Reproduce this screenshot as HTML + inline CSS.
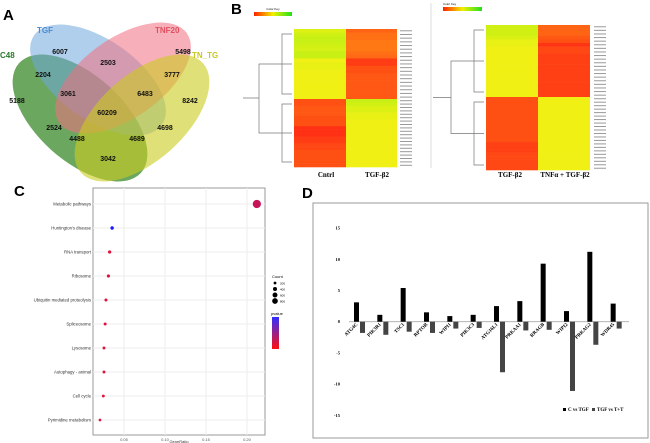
<!DOCTYPE html>
<html><head><meta charset="utf-8"><style>
body{margin:0;background:#fff;width:650px;height:443px;overflow:hidden;font-family:"Liberation Sans",sans-serif}
svg{display:block}
</style></head><body>
<svg id="fig" width="650" height="443" xmlns="http://www.w3.org/2000/svg">
<!-- Panel labels -->
<text x="3" y="20" font-size="15" font-weight="bold">A</text>
<text x="231" y="14" font-size="15" font-weight="bold">B</text>
<text x="14" y="196" font-size="15" font-weight="bold">C</text>
<text x="302" y="198" font-size="15" font-weight="bold">D</text>

<!-- Panel A Venn -->
<g>
<ellipse cx="80" cy="118" rx="82" ry="43" transform="rotate(42 80 118)" fill="#3a8a2a" fill-opacity="0.75"/>
<ellipse cx="98" cy="80" rx="78" ry="40" transform="rotate(35 98 80)" fill="#6fa8dc" fill-opacity="0.55"/>
<ellipse cx="123" cy="78" rx="78" ry="40" transform="rotate(-35 123 78)" fill="#f07080" fill-opacity="0.55"/>
<ellipse cx="142" cy="118" rx="82" ry="43" transform="rotate(-42 142 118)" fill="#cccc20" fill-opacity="0.6"/>
<g font-size="8" font-weight="bold" fill="#4a8ad0"><text x="37" y="33">TGF</text></g>
<text x="155" y="33" font-size="8" font-weight="bold" fill="#e05060">TNF20</text>
<text x="0" y="58" font-size="8" font-weight="bold" fill="#2a7a2a">C48</text>
<text x="192" y="58" font-size="8" font-weight="bold" fill="#c8c820">TN_TG</text>
<g font-size="7" font-weight="bold" fill="#111" text-anchor="middle">
<text x="60" y="54">6007</text><text x="183" y="54">5498</text><text x="108" y="65">2503</text>
<text x="43" y="77">2204</text><text x="172" y="77">3777</text><text x="68" y="96">3061</text>
<text x="145" y="96">6483</text><text x="17" y="103">5188</text><text x="190" y="103">8242</text>
<text x="107" y="115">60209</text><text x="54" y="130">2524</text><text x="165" y="130">4698</text>
<text x="77" y="141">4488</text><text x="137" y="141">4689</text><text x="108" y="161">3042</text>
</g>
</g>

<!-- Panel B -->
<defs><linearGradient id="cb" x1="0" x2="1"><stop offset="0" stop-color="#ff2000"/><stop offset="0.5" stop-color="#f0f000"/><stop offset="1" stop-color="#20e020"/></linearGradient></defs>
<g id="heatB">
<line x1="431" y1="3" x2="431" y2="168" stroke="#ddd"/>
<text x="273" y="10" font-size="3" text-anchor="middle">Color Key</text>
<rect x="254" y="12" width="38" height="4" fill="url(#cb)"/>
<text x="443" y="5" font-size="3">Color Key</text>
<rect x="443" y="7" width="39" height="4" fill="url(#cb)"/>
<text x="326" y="177" font-size="7" font-weight="bold" font-family="Liberation Serif" text-anchor="middle">Cntrl</text>
<text x="377" y="177" font-size="7" font-weight="bold" font-family="Liberation Serif" text-anchor="middle">TGF-β2</text>
<text x="510" y="177" font-size="7" font-weight="bold" font-family="Liberation Serif" text-anchor="middle">TGF-β2</text>
<text x="565" y="177" font-size="7" font-weight="bold" font-family="Liberation Serif" text-anchor="middle">TNFα + TGF-β2</text>
</g>

<!-- Panel C -->
<g id="dotC">
<rect x="93" y="188" width="172" height="247" fill="#fff" stroke="#999"/>
<text x="179" y="443" font-size="4" text-anchor="middle" fill="#333">GeneRatio</text>
<text x="272" y="278" font-size="4">Count</text>
<text x="271" y="315" font-size="4">pvalue</text>
<defs><linearGradient id="pv" x1="0" y1="0" x2="0" y2="1"><stop offset="0" stop-color="#3030ff"/><stop offset="1" stop-color="#ff1010"/></linearGradient></defs>
<rect x="272" y="317" width="7" height="32" fill="url(#pv)"/>
</g>

<!-- Panel D -->
<g id="barD">
<rect x="313" y="203" width="335" height="235" fill="#fff" stroke="#999"/>
<g font-size="5" font-family="Liberation Serif" font-weight="bold">
<rect x="563" y="408" width="3" height="3" fill="#000"/><text x="568" y="411">C vs TGF</text>
<rect x="592" y="408" width="3" height="3" fill="#444"/><text x="597" y="411">TGF vs T+T</text>
</g>
</g>
</svg>
<script>
// ---- Panel B heatmap data ----
const leftTop=[0.55,0.58,0.6,0.6,0.58,0.57,0.6,0.6,0.5,0.52,0.52,0.5,0.5,0.5,0.5,0.5,0.5,0.5,0.5];
const leftTopR=[0.15,0.18,0.18,0.2,0.2,0.2,0.18,0.16,0.05,0.05,0.1,0.1,0.12,0.12,0.12,0.12,0.12,0.12,0.12];
const leftBot=[0.1,0.1,0.12,0.12,0.12,0.1,0.1,0.1,0.02,0.02,0.02,0.05,0.05,0.08,0.08,0.1,0.1,0.1,0.1,0.1];
const leftBotR=[0.6,0.58,0.55,0.55,0.52,0.52,0.5,0.5,0.5,0.5,0.5,0.5,0.5,0.5,0.5,0.5,0.5,0.5,0.5,0.5];
const rightTop=[0.58,0.58,0.58,0.56,0.52,0.52,0.5,0.5,0.5,0.5,0.5,0.5,0.5,0.5,0.5,0.5,0.5,0.5,0.5,0.5];
const rightTopR=[0.15,0.15,0.15,0.12,0.1,0.03,0.08,0.08,0.06,0.06,0.06,0.06,0.06,0.06,0.06,0.06,0.06,0.06,0.06,0.06];
const rightBot=[0.1,0.1,0.1,0.1,0.1,0.1,0.1,0.1,0.1,0.1,0.1,0.1,0.1,0.06,0.06,0.06,0.08,0.08,0.08,0.08,0.08];
const rightBotR=[0.5,0.5,0.5,0.5,0.5,0.5,0.5,0.5,0.5,0.5,0.5,0.5,0.5,0.5,0.5,0.5,0.5,0.5,0.5,0.5,0.5];
// ---- Panel C dot plot data ----
const pathways=["Metabolic pathways","Huntington's disease","RNA transport","Ribosome","Ubiquitin mediated proteolysis","Spliceosome","Lysosome","Autophagy - animal","Cell cycle","Pyrimidine metabolism"];
const geneRatio=[0.212,0.0355,0.0325,0.031,0.028,0.027,0.0256,0.0256,0.0248,0.0207];
const dotCount=[880,150,140,130,120,115,110,110,105,90];
const pvalue=[5e-7,2.0e-6,3e-7,3e-7,3e-7,3e-7,3e-7,3e-7,3e-7,3e-7];
const xTicksC=[0.05,0.10,0.15,0.20];
const countTicks=[200,400,600,800];
// ---- Panel D bar data ----
const genes=["ATG4C","PIK3R1","TSC1","RPTOR","WIPI1","PIK3C3","ATG16L1","PRKAA1","RRAGB","WIPI2","PRKAG2","WDR45"];
const cVsTgf=[3.1,1.1,5.4,1.5,0.9,1.1,2.5,3.3,9.3,1.7,11.2,2.9];
const tgfVsTT=[-1.8,-2.1,-1.6,-1.8,-1.1,-1.0,-8.1,-1.4,-1.3,-11.1,-3.7,-1.1];
const yTicksD=[15,10,5,0,-5,-10,-15];

const NS="http://www.w3.org/2000/svg";
function mk(tag,attrs,parent,txt){const e=document.createElementNS(NS,tag);for(const k in attrs)e.setAttribute(k,attrs[k]);if(txt!==undefined)e.textContent=txt;parent.appendChild(e);return e;}
function heatColor(v){ // 0 red, 0.5 yellow, 1 green
  let r,g,b=0;
  if(v<0.5){r=255;g=Math.round(40+ (v/0.5)*200);}else{r=Math.round(240-(v-0.5)/0.5*200);g=240;}
  return `rgb(${r},${g},${b+20})`;
}
const gB=document.getElementById('heatB');
function heatmap(x0,xm,x1,y0,ys,y1,top,topR,bot,botR,labelX,treeX0,name){
  const g=mk('g',{},gB);
  
  
  const th=(ys-y0)/top.length, bh=(y1-ys)/bot.length;
  top.forEach((v,i)=>{
    const c1=mk('rect',{x:x0,y:y0+i*th,width:xm-x0,height:th+0.3,fill:heatColor(v)},g);
    
    
    const c2=mk('rect',{x:xm,y:y0+i*th,width:x1-xm,height:th+0.3,fill:heatColor(topR[i])},g);
    
    
    mk('rect',{x:labelX,y:y0+i*th+th*0.35,width:12,height:1,fill:'#999'},g);
  });
  bot.forEach((v,i)=>{
    const c1=mk('rect',{x:x0,y:ys+i*bh,width:xm-x0,height:bh+0.3,fill:heatColor(v)},g);
    
    
    const c2=mk('rect',{x:xm,y:ys+i*bh,width:x1-xm,height:bh+0.3,fill:heatColor(botR[i])},g);
    
    
    mk('rect',{x:labelX,y:ys+i*bh+bh*0.35,width:12,height:1,fill:'#999'},g);
  });
  // dendrogram
  const d=mk('path',{fill:'none',stroke:'#777','stroke-width':0.7,d:
    `M${x0-2},${(y0+ys)/2} H${x0-35} V${(ys+y1)/2} H${x0-2} M${x0-35},${(y0+y1)/2} H${treeX0}
     M${x0-2},${y0+5} H${x0-12} V${ys-5} H${x0-2} M${x0-2},${ys+5} H${x0-12} V${y1-5} H${x0-2}
     M${x0-12},${(y0+ys)/2} H${x0-20} M${x0-12},${(ys+y1)/2} H${x0-20}`},g);
  
  
}
heatmap(294,346,397,29,99,167,leftTop,leftTopR,leftBot,leftBotR,400,243,'heatmap-left');
heatmap(486,538,590,25,97,170,rightTop,rightTopR,rightBot,rightBotR,594,433,'heatmap-right');

// Panel C
const gC=document.getElementById('dotC');
const xC=v=>83+v*820, yC=i=>204+i*24;
xTicksC.forEach(t=>{
  const l=mk('line',{x1:xC(t),x2:xC(t),y1:188,y2:435,stroke:'#eee'},gC);
  
  
  const tx=mk('text',{x:xC(t),y:441,'font-size':4,'text-anchor':'middle',fill:'#555'},gC,t.toFixed(2));
  
  
});
pathways.forEach((p,i)=>{
  const l=mk('line',{x1:93,x2:265,y1:yC(i),y2:yC(i),stroke:'#eee'},gC);
  
  
  const tx=mk('text',{x:91,y:yC(i)+1.5,'font-size':4.3,'text-anchor':'end',fill:'#333'},gC,p);
  
  
  const t=Math.min(1,pvalue[i]/2e-6);
  const col=`rgb(${Math.round(255*(1-t)+30*t)},${Math.round(20)},${Math.round(30*(1-t)+255*t)})`;
  const c=mk('circle',{cx:xC(geneRatio[i]),cy:yC(i),r:Math.sqrt(dotCount[i])/7.2,fill:col},gC);
  
  
});
countTicks.forEach((c,i)=>{
  const e=mk('circle',{cx:275,cy:283+i*6,r:Math.sqrt(c)/10},gC);
  
  
  mk('text',{x:280,y:284.5+i*6,'font-size':3},gC,String(c));
});

// Panel D
const gD=document.getElementById('barD');
const yD=v=>321.7-v*6.24;
const axX0=349, axX1=629, gw=(axX1-axX0)/genes.length;
yTicksD.forEach(t=>{
  const tx=mk('text',{x:340,y:yD(t)+1.5,'font-size':4.5,'text-anchor':'end','font-family':'Liberation Serif','font-weight':'bold'},gD,String(t));
  
  
});
const ax=mk('line',{x1:axX0,x2:axX1,y1:yD(0),y2:yD(0),stroke:'#aaa','stroke-width':0.8},gD);


genes.forEach((g,i)=>{
  const bx=axX0+i*gw+5;
  const a=cVsTgf[i],b=tgfVsTT[i];
  const r1=mk('rect',{x:bx,y:yD(Math.max(a,0)),width:5,height:Math.abs(yD(a)-yD(0)),fill:'#000'},gD);
  
  
  const r2=mk('rect',{x:bx+6,y:yD(Math.max(b,0)),width:5,height:Math.abs(yD(b)-yD(0)),fill:'#444'},gD);
  
  
  const cx=bx+4, cy=yD(0)+3;
  const tx=mk('text',{x:cx,y:cy,'font-size':5,'text-anchor':'end','font-family':'Liberation Serif','font-weight':'bold',transform:`rotate(-45 ${cx} ${cy})`},gD,g);
  
  
});
</script>
</body></html>
